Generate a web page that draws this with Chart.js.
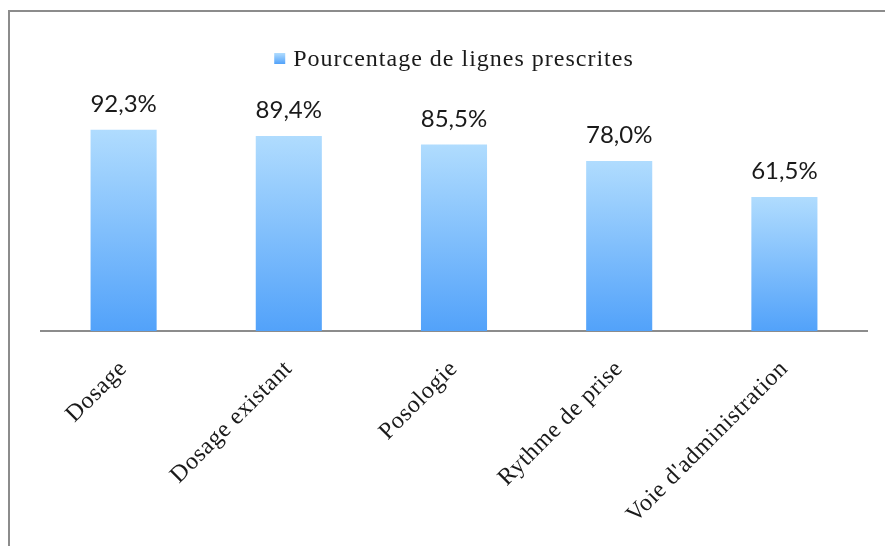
<!DOCTYPE html>
<html>
<head>
<meta charset="utf-8">
<script src="https://cdn.jsdelivr.net/npm/chart.js@4/dist/chart.umd.min.js"></script>
<style>
  body { margin: 0; background: #fff; }
  #frame {
    position: absolute; left: 8px; top: 10px;
    width: 875px; height: 534px;
    border-left: 2px solid #8c8c8c; border-top: 2px solid #8c8c8c;
  }
  #chart { display: block; }
</style>
</head>
<body>
<div id="frame"><canvas id="chart" width="875" height="534"></canvas></div>
<script>
var categories = ["Dosage", "Dosage existant", "Posologie", "Rythme de prise", "Voie d'administration"];
var seriesName = "Pourcentage de lignes prescrites";
var values = [92.3, 89.4, 85.5, 78.0, 61.5];

// degradé vertical par barre : clair en haut, plus foncé en bas
function barGradient(ctx) {
    var chart = ctx.chart;
    if (!chart.chartArea || ctx.type !== 'data') return '#7dbdfc';
    var y = chart.scales.y;
    var top = y.getPixelForValue(values[ctx.dataIndex]);
    var bottom = y.getPixelForValue(0);
    var g = chart.ctx.createLinearGradient(0, top, 0, bottom);
    g.addColorStop(0, '#b0dcfe');
    g.addColorStop(1, '#52a2fa');
    return g;
}

// un peu d'espacement pour approcher la police d'origine (Baskerville)
var spacing = {
    id: 'spacing',
    beforeDraw: function (chart) { chart.ctx.letterSpacing = '0.6px'; }
};

var valueLabels = {
    id: 'valueLabels',
    afterDatasetsDraw: function (chart) {
        var c = chart.ctx;
        var meta = chart.getDatasetMeta(0);
        c.save();
        c.letterSpacing = '0px';
        c.font = '24px Lato, "Open Sans", sans-serif';
        c.fillStyle = '#1a1a1a';
        c.textAlign = 'center';
        c.textBaseline = 'alphabetic';
        meta.data.forEach(function (bar, i) {
            var txt = values[i].toFixed(1).replace('.', ',') + '%';
            c.fillText(txt, bar.x, bar.y - 18);
        });
        c.restore();
    }
};

var legendBox = {
    id: 'legendBox',
    afterDraw: function (chart) {
        var c = chart.ctx;
        c.save();
        c.letterSpacing = '1px';
        c.font = '24px "Liberation Serif", serif';
        var w = c.measureText(seriesName).width;
        var x = (chart.chartArea.left + chart.chartArea.right) / 2 - (w + 19) / 2;
        var g = c.createLinearGradient(0, 41, 0, 52);
        g.addColorStop(0, '#b0dcfe');
        g.addColorStop(1, '#52a2fa');
        c.fillStyle = g;
        c.fillRect(x, 41, 11, 11);
        c.fillStyle = '#1a1a1a';
        c.textBaseline = 'alphabetic';
        c.fillText(seriesName, x + 19, 54);
        c.restore();
    }
};

new Chart(document.getElementById('chart'), {
    type: 'bar',
    data: {
        labels: categories,
        datasets: [{
            label: seriesName,
            data: values,
            backgroundColor: barGradient,
            borderWidth: 0,
            categoryPercentage: 1,
            barPercentage: 0.4
        }]
    },
    options: {
        responsive: false,
        animation: false,
        layout: { padding: { left: 31, right: 18, top: 101, bottom: 0 } },
        plugins: {
            legend: { display: false },
            tooltip: { enabled: false }
        },
        scales: {
            y: {
                display: false,
                min: 0,
                max: 100
            },
            x: {
                grid: { display: false, drawTicks: false },
                border: { color: '#8c8c8c', width: 2 },
                ticks: {
                    minRotation: 45,
                    maxRotation: 45,
                    color: '#1a1a1a',
                    padding: 24,
                    font: { family: '"Liberation Serif", serif', size: 24 }
                },
                afterFit: function (scale) { scale.height = 215; }
            }
        }
    },
    plugins: [spacing, valueLabels, legendBox]
});
</script>
</body>
</html>
